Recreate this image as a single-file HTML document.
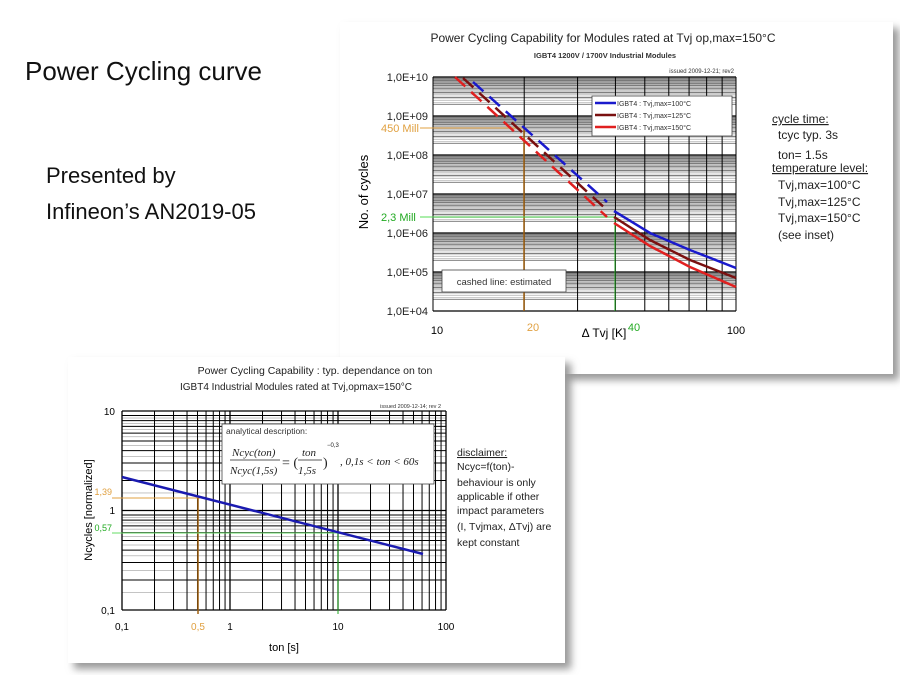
<!DOCTYPE html>
<html><head><meta charset="utf-8"><style>
body{margin:0;background:#fff;width:900px;height:675px;overflow:hidden;font-family:"Liberation Sans",sans-serif}
</style></head><body>
<svg id="s" width="900" height="675" xmlns="http://www.w3.org/2000/svg" font-family="Liberation Sans, sans-serif">
<defs><filter id="sh" x="-5%" y="-5%" width="115%" height="115%"><feGaussianBlur stdDeviation="4"/></filter></defs>
<text x="25" y="80" font-size="26" fill="#111">Power Cycling curve</text>
<text x="46" y="183" font-size="22" fill="#111">Presented by</text>
<text x="46" y="219" font-size="22" fill="#111">Infineon’s AN2019-05</text>
<rect x="346" y="28" width="553" height="352" fill="#999" filter="url(#sh)"/>
<rect x="340" y="22" width="553" height="352" fill="#fff"/>
<g id="top"></g>
<rect x="74" y="363" width="497" height="306" fill="#999" filter="url(#sh)"/>
<rect x="68" y="357" width="497" height="306" fill="#fff"/>
<g id="bot"></g>
</svg>
<script>
var NS="http://www.w3.org/2000/svg";
function el(p,t,a,txt){var e=document.createElementNS(NS,t);for(var k in a)e.setAttribute(k,a[k]);if(txt!=null)e.textContent=txt;p.appendChild(e);return e;}
var T=document.getElementById('top'),B=document.getElementById('bot');
// TOP chart
var x0=433,x1=736,y0=77,y1=311;
function tx(v){return x0+(Math.log10(v)-1)*(x1-x0);}
function ty(e){return y1-(e-4)*(y1-y0)/6;}
for(var d=4;d<10;d++){for(var m=1;m<10;m++){var y=ty(d+Math.log10(m));el(T,'line',{x1:x0,x2:x1,y1:y,y2:y,stroke:m==1?'#000':'#555','stroke-width':m==1?1.3:0.8});
 for(var k=1;k<4&&m>1;k++){var yy=ty(d+Math.log10(m+k*0.25));el(T,'line',{x1:x0,x2:x1,y1:yy,y2:yy,stroke:'#999','stroke-width':0.5});}}}
el(T,'line',{x1:x0,x2:x1,y1:y0,y2:y0,stroke:'#000','stroke-width':1.3});
for(var v=10;v<=100;v+=10){el(T,'line',{x1:tx(v),x2:tx(v),y1:y0,y2:y1,stroke:'#000','stroke-width':1});}
var lab=['1,0E+04','1,0E+05','1,0E+06','1,0E+07','1,0E+08','1,0E+09','1,0E+10'];
for(var i=0;i<7;i++)el(T,'text',{x:428,y:ty(4+i)+4,'font-size':11,'text-anchor':'end',fill:'#222'},lab[i]);
el(T,'text',{x:437,y:334,'font-size':11,'text-anchor':'middle'},'10');
el(T,'text',{x:736,y:334,'font-size':11,'text-anchor':'middle'},'100');
el(T,'text',{x:533,y:331,'font-size':11,'text-anchor':'middle',fill:'#e0a040'},'20');
el(T,'text',{x:634,y:331,'font-size':11,'text-anchor':'middle',fill:'#2a2'},'40');
el(T,'text',{x:604,y:337,'font-size':12,'text-anchor':'middle'},'Δ Tvj [K]');
el(T,'text',{x:368,y:192,'font-size':13,'text-anchor':'middle',transform:'rotate(-90 368 192)'},'No. of cycles');
el(T,'text',{x:603,y:42,'font-size':12,'text-anchor':'middle',fill:'#222'},'Power Cycling Capability for Modules rated at Tvj op,max=150°C');
el(T,'text',{x:605,y:58,'font-size':7.5,'text-anchor':'middle',fill:'#333','font-weight':'bold'},'IGBT4 1200V / 1700V Industrial Modules');
el(T,'text',{x:734,y:73,'font-size':6,'text-anchor':'end',fill:'#333'},'issued 2009-12-21; rev2');
// markers
el(T,'line',{x1:420,x2:524,y1:128,y2:128,stroke:'#e0a040','stroke-width':1});
el(T,'line',{x1:524,x2:524,y1:128,y2:311,stroke:'#a06010','stroke-width':1.5});
el(T,'text',{x:381,y:132,'font-size':11,fill:'#e0a040'},'450 Mill');
el(T,'line',{x1:420,x2:615,y1:217,y2:217,stroke:'#5d5','stroke-width':1});
el(T,'line',{x1:615,x2:615,y1:217,y2:311,stroke:'#2a2','stroke-width':1});
el(T,'text',{x:381,y:221,'font-size':11,fill:'#2a2'},'2,3 Mill');
// curves
function curve(pts,col,dash){var d='M'+pts.map(p=>p.join(',')).join(' L');el(T,'path',{d:d,stroke:col,'stroke-width':2.5,fill:'none','stroke-dasharray':dash||'none'});}
curve([[473,82],[607,202]],'#1a1acc','14,8');
curve([[463,78],[607,210]],'#7a1010','14,8');
curve([[455,77],[607,217]],'#e02020','14,8');
curve([[614,211],[650,233],[690,250],[736,268]],'#1a1acc');
curve([[614,217],[650,240],[690,260],[736,278]],'#7a1010');
curve([[614,223],[650,246],[690,267],[736,287]],'#e02020');
// legend
el(T,'rect',{x:592,y:96,width:140,height:40,fill:'#fff',stroke:'#444','stroke-width':0.8});
var lc=['#1a1acc','#7a1010','#e02020'],lt=['IGBT4 : Tvj,max=100°C','IGBT4 : Tvj,max=125°C','IGBT4 : Tvj,max=150°C'];
for(i=0;i<3;i++){el(T,'line',{x1:595,x2:616,y1:103+i*12,y2:103+i*12,stroke:lc[i],'stroke-width':2.5});el(T,'text',{x:617,y:106+i*12,'font-size':7,fill:'#333'},lt[i]);}
el(T,'rect',{x:442,y:270,width:124,height:22,fill:'#fff',stroke:'#444','stroke-width':0.8});
el(T,'text',{x:504,y:285,'font-size':9.5,'text-anchor':'middle',fill:'#333'},'cashed line: estimated');
var rt=[['cycle time:',123,1],['  tcyc typ. 3s',139,0],['  ton= 1.5s',159,0],['temperature level:',172,1],['  Tvj,max=100°C',189,0],['  Tvj,max=125°C',206,0],['  Tvj,max=150°C',222,0],['  (see inset)',239,0]];
rt.forEach(r=>{var t=el(T,'text',{x:r[0].startsWith('  ')?778:772,y:r[1],'font-size':12,fill:'#222','text-decoration':r[2]?'underline':'none'},r[0].trim());});
// BOTTOM chart
var bx0=122,bx1=446,by0=411,by1=610;
function bx(v){return bx0+(Math.log10(v)+1)*(bx1-bx0)/3;}
function by(v){return by1-(Math.log10(v)+1)*(by1-by0)/2;}
for(d=-1;d<1;d++)for(m=1;m<10;m++){var v=Math.pow(10,d)*m;el(B,'line',{x1:bx0,x2:bx1,y1:by(v),y2:by(v),stroke:'#000','stroke-width':m==1?1.3:1});
 if(m<9){var vm=Math.pow(10,d)*(m+0.5);el(B,'line',{x1:bx0,x2:bx1,y1:by(vm),y2:by(vm),stroke:'#888','stroke-width':0.5});}}
el(B,'line',{x1:bx0,x2:bx1,y1:by0,y2:by0,stroke:'#000','stroke-width':1.3});
for(d=-1;d<2;d++)for(m=1;m<10;m++){v=Math.pow(10,d)*m;el(B,'line',{x1:bx(v),x2:bx(v),y1:by0,y2:by1,stroke:'#000','stroke-width':m==1?1.3:1});}
el(B,'line',{x1:bx1,x2:bx1,y1:by0,y2:by1,stroke:'#000','stroke-width':1.3});
el(B,'rect',{x:222,y:424,width:212,height:60,fill:'#fff',stroke:'#444','stroke-width':0.8});
el(B,'text',{x:226,y:434,'font-size':8.5,fill:'#333'},'analytical description:');
el(B,'text',{x:232,y:456,'font-size':11,fill:'#222','font-family':'Liberation Serif, serif','font-style':'italic'},'Ncyc(ton)');
el(B,'line',{x1:230,x2:280,y1:460,y2:460,stroke:'#222','stroke-width':0.8});
el(B,'text',{x:230,y:474,'font-size':11,fill:'#222','font-family':'Liberation Serif, serif','font-style':'italic'},'Ncyc(1,5s)');
el(B,'text',{x:282,y:467,'font-size':14,fill:'#222','font-family':'Liberation Serif, serif'},'= (');
el(B,'text',{x:302,y:456,'font-size':11,fill:'#222','font-family':'Liberation Serif, serif','font-style':'italic'},'ton');
el(B,'line',{x1:298,x2:322,y1:460,y2:460,stroke:'#222','stroke-width':0.8});
el(B,'text',{x:298,y:474,'font-size':11,fill:'#222','font-family':'Liberation Serif, serif','font-style':'italic'},'1,5s');
el(B,'text',{x:323,y:467,'font-size':14,fill:'#222','font-family':'Liberation Serif, serif'},')');
el(B,'text',{x:327,y:447,'font-size':6,fill:'#222'},'−0,3');
el(B,'text',{x:340,y:465,'font-size':11,fill:'#222','font-family':'Liberation Serif, serif','font-style':'italic'},',   0,1s < ton < 60s');
el(B,'line',{x1:112,x2:200,y1:498,y2:498,stroke:'#e0a040','stroke-width':1});
el(B,'line',{x1:198,x2:198,y1:498,y2:614,stroke:'#a06010','stroke-width':1.5});
el(B,'line',{x1:112,x2:338,y1:533,y2:533,stroke:'#6d6','stroke-width':1});
el(B,'line',{x1:338,x2:338,y1:533,y2:614,stroke:'#2a2','stroke-width':1});
el(B,'path',{d:'M122,477 L423,554',stroke:'#1a1ab0','stroke-width':2.5,fill:'none'});
el(B,'text',{x:112,y:495,'font-size':9,fill:'#e0a040','text-anchor':'end'},'1,39');
el(B,'text',{x:112,y:531,'font-size':9,fill:'#2a2','text-anchor':'end'},'0,57');
el(B,'text',{x:115,y:415,'font-size':10,'text-anchor':'end'},'10');
el(B,'text',{x:115,y:514,'font-size':10,'text-anchor':'end'},'1');
el(B,'text',{x:115,y:614,'font-size':10,'text-anchor':'end'},'0,1');
el(B,'text',{x:122,y:630,'font-size':10,'text-anchor':'middle'},'0,1');
el(B,'text',{x:198,y:630,'font-size':10,'text-anchor':'middle',fill:'#e0a040'},'0,5');
el(B,'text',{x:230,y:630,'font-size':10,'text-anchor':'middle'},'1');
el(B,'text',{x:338,y:630,'font-size':10,'text-anchor':'middle'},'10');
el(B,'text',{x:446,y:630,'font-size':10,'text-anchor':'middle'},'100');
el(B,'text',{x:284,y:651,'font-size':11,'text-anchor':'middle'},'ton [s]');
el(B,'text',{x:92,y:510,'font-size':11,'text-anchor':'middle',transform:'rotate(-90 92 510)'},'Ncycles [normalized]');
el(B,'text',{x:315,y:374,'font-size':10.5,'text-anchor':'middle',fill:'#222'},'Power Cycling Capability : typ. dependance on ton');
el(B,'text',{x:296,y:390,'font-size':10,'text-anchor':'middle',fill:'#222'},'IGBT4 Industrial Modules rated at Tvj,opmax=150°C');
el(B,'text',{x:441,y:408,'font-size':5.5,'text-anchor':'end',fill:'#333'},'issued 2009-12-14; rev 2');
var dt=[['disclaimer:',456,1],['Ncyc=f(ton)-',470,0],['behaviour is only',486,0],['applicable if other',500,0],['impact parameters',514,0],['(I, Tvjmax, ΔTvj) are',530,0],['kept constant',546,0]];
dt.forEach(r=>el(B,'text',{x:457,y:r[1],'font-size':10.5,fill:'#222','text-decoration':r[2]?'underline':'none'},r[0]));
</script>
</body></html>
